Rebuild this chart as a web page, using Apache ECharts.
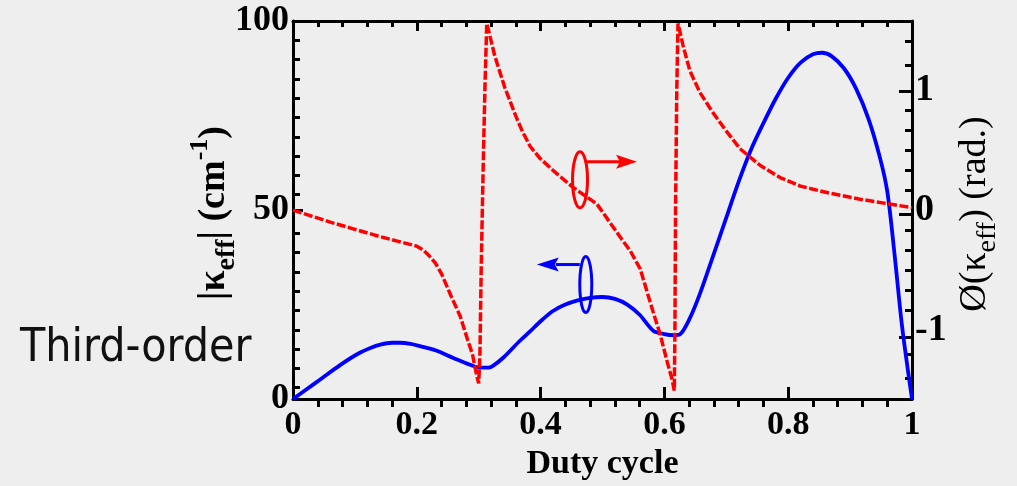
<!DOCTYPE html>
<html><head><meta charset="utf-8">
<style>html,body{margin:0;padding:0;background:#eeeeee;}#c{width:1017px;height:486px;}</style>
<script src="https://cdn.jsdelivr.net/npm/echarts@6/dist/echarts.min.js"></script>
</head><body><div id="c"></div>
<script>
// ---- data ----
const dutyAbs = [0, 0.022, 0.044, 0.076, 0.105, 0.125, 0.141, 0.16, 0.173, 0.19, 0.205, 0.23, 0.259, 0.286, 0.302, 0.315, 0.323, 0.34, 0.367, 0.383, 0.40, 0.42, 0.44, 0.46, 0.48, 0.50, 0.52, 0.54, 0.56, 0.582, 0.60, 0.615, 0.625, 0.64, 0.657, 0.68, 0.70, 0.72, 0.74, 0.76, 0.78, 0.80, 0.82, 0.84, 0.855, 0.87, 0.89, 0.91, 0.93, 0.948, 0.96, 0.972, 0.984, 1.0];
const kappaAbs = [0, 2.6, 5.2, 9.0, 12.0, 13.5, 14.4, 14.9, 14.9, 14.6, 14.0, 12.9, 10.9, 9.1, 8.3, 8.3, 8.8, 11.0, 15.5, 17.9, 20.6, 23.3, 25.0, 26.1, 26.8, 27.0, 26.5, 25.0, 22.3, 18.1, 17.2, 16.9, 17.1, 21.0, 27.7, 38.5, 48.0, 57.5, 66.0, 73.0, 79.5, 85.0, 89.0, 91.2, 91.6, 90.7, 87.5, 82.0, 74.0, 64.0, 55.0, 38.0, 19.2, 0];
const dutyPhase = [0, 0.03, 0.06, 0.10, 0.14, 0.17, 0.20, 0.21, 0.22, 0.23, 0.24, 0.255, 0.27, 0.281, 0.29, 0.297, 0.300, 0.302, 0.304, 0.307, 0.310, 0.313, 0.318, 0.326, 0.334, 0.342, 0.351, 0.36, 0.37, 0.383, 0.399, 0.42, 0.452, 0.491, 0.528, 0.545, 0.561, 0.582, 0.593, 0.605, 0.612, 0.616, 0.617, 0.618, 0.620, 0.622, 0.63, 0.641, 0.657, 0.677, 0.698, 0.722, 0.755, 0.787, 0.819, 0.867, 0.916, 0.964, 1.0];
const kappaPhase = [0, -0.05, -0.1, -0.16, -0.22, -0.26, -0.30, -0.33, -0.38, -0.44, -0.53, -0.71, -0.88, -1.06, -1.2, -1.38, -1.44, -1.2, -0.5, 0.3, 1.0, 1.55, 1.45, 1.28, 1.15, 1.02, 0.9, 0.78, 0.66, 0.53, 0.43, 0.33, 0.19, 0.05, -0.22, -0.34, -0.49, -0.85, -1.03, -1.27, -1.4, -1.5, -1.0, 0.0, 1.0, 1.55, 1.37, 1.16, 0.98, 0.82, 0.67, 0.51, 0.37, 0.27, 0.2, 0.14, 0.09, 0.05, 0.02];
// ---- ticks ----
const xMajorTicks = [0, 0.2, 0.4, 0.6, 0.8, 1];
const xMinorTicks = [0.04, 0.08, 0.12, 0.16, 0.24, 0.28, 0.32, 0.36, 0.44, 0.48, 0.52, 0.56, 0.64, 0.68, 0.72, 0.76, 0.84, 0.88, 0.92, 0.96];
const leftMajorTicks = [0, 50, 100];
const leftMinorTicks = [5, 10, 15, 20, 25, 30, 35, 40, 45, 55, 60, 65, 70, 75, 80, 85, 90, 95];
const phaseLabelTicks = [-1, 0, 1];
const phaseMinorTicks = [-1.4, -1.2, -5/6, -2/3, -1/2, -1/3, -1/6, 1/6, 1/3, 1/2, 2/3, 5/6, 1.2, 1.4];
// annotation anchors (duty, |kappa|)
const redMarkAt = [0.4637, 58];
const blueMarkAt = [0.473, 30.3];

const serif = '"Liberation Serif","Times New Roman",serif';
const zip = (a, b) => a.map((v, i) => [v, b[i]]);
const black = '#000';
const chart = echarts.init(document.getElementById('c'));
const PHI = Math.PI / 2;
const line3 = () => ({show: true, onZero: false, lineStyle: {color: black, width: 3}});
const noLine = () => ({show: false, onZero: false});
const ticks = (vals, len) => ({show: true, inside: true, length: len, customValues: vals, lineStyle: {color: black, width: 3}});
const off = () => ({show: false});

const richFor = (weight) => ({
  n: {fontFamily: serif, fontWeight: weight, fontSize: 38, lineHeight: 54, fill: black, color: black},
  s: {fontFamily: serif, fontWeight: weight, fontSize: 28, lineHeight: 28, verticalAlign: 'bottom', fill: black, color: black},
  p: {fontFamily: serif, fontWeight: weight, fontSize: 26, lineHeight: 26, verticalAlign: 'top', fill: black, color: black}
});

const option = {
  backgroundColor: '#eeeeee',
  animation: false,
  grid: [
    {left: 293, right: 105, top: 21, bottom: 79},
    {left: 293, right: 105, top: 21, bottom: 79}
  ],
  xAxis: [{
    gridIndex: 0, type: 'value', min: 0, max: 1, position: 'bottom',
    axisLine: line3(), axisTick: ticks(xMajorTicks, 12),
    axisLabel: {color: black, fontFamily: serif, fontWeight: 'bold', fontSize: 34, margin: 9, customValues: xMajorTicks},
    splitLine: off(),
    name: 'Duty cycle', nameLocation: 'middle', nameGap: 41,
    nameTextStyle: {color: black, fontFamily: serif, fontWeight: 'bold', fontSize: 34}
  }, {
    gridIndex: 0, type: 'value', min: 0, max: 1, position: 'top',
    axisLine: line3(), axisTick: ticks(xMajorTicks, 10),
    axisLabel: off(), splitLine: off()
  }, {
    gridIndex: 1, type: 'value', min: 0, max: 1, position: 'bottom',
    axisLine: noLine(), axisTick: ticks(xMinorTicks, 6), axisLabel: off(), splitLine: off()
  }, {
    gridIndex: 1, type: 'value', min: 0, max: 1, position: 'top',
    axisLine: noLine(), axisTick: ticks(xMinorTicks, 6), axisLabel: off(), splitLine: off()
  }],
  yAxis: [{
    gridIndex: 0, type: 'value', min: 0, max: 100, position: 'left',
    axisLine: line3(), axisTick: ticks(leftMajorTicks, 10),
    axisLabel: {color: black, fontFamily: serif, fontWeight: 'bold', fontSize: 36, margin: 4, customValues: leftMajorTicks},
    splitLine: off()
  }, {
    gridIndex: 0, type: 'value', min: -PHI, max: PHI, position: 'right',
    axisLine: line3(), axisTick: ticks(phaseMinorTicks, 7),
    axisLabel: {color: black, fontFamily: serif, fontWeight: 'bold', fontSize: 38, margin: 3, customValues: phaseLabelTicks},
    splitLine: off()
  }, {
    gridIndex: 1, type: 'value', min: 0, max: 100, position: 'left',
    axisLine: noLine(), axisTick: ticks(leftMinorTicks, 7), axisLabel: off(), splitLine: off()
  }, {
    gridIndex: 1, type: 'value', min: -PHI, max: PHI, position: 'right',
    axisLine: noLine(), axisTick: ticks(phaseLabelTicks, 13), axisLabel: off(), splitLine: off()
  }],
  series: [{
    name: '|κeff|', type: 'line', xAxisIndex: 0, yAxisIndex: 0,
    data: zip(dutyAbs, kappaAbs), showSymbol: false, smooth: 0.3,
    lineStyle: {color: '#0000ff', width: 3.8}, z: 3
  }, {
    name: 'Ø(κeff)', type: 'line', xAxisIndex: 0, yAxisIndex: 1,
    data: zip(dutyPhase, kappaPhase), showSymbol: false,
    lineStyle: {color: '#ff0000', width: 3.5, type: [9, 2.5]}, z: 4
  }]
};
chart.setOption(option);

const toPx = p => chart.convertToPixel({xAxisIndex: 0, yAxisIndex: 0}, p);
const rc = toPx(redMarkAt), bc = toPx(blueMarkAt);
const red = '#ff0000', blue = '#0000ff';
chart.setOption({
  graphic: [
    {type: 'text', left: 20, top: 326, silent: true,
     style: {text: 'Third-order', font: '46px "DejaVu Sans Condensed","DejaVu Sans",sans-serif', fill: '#111'}},
    {type: 'text', x: 214, y: 213, rotation: Math.PI / 2, silent: true,
     style: {text: '{n||κ}{s|eff}{n|| (cm}{p|-1}{n|)}', rich: richFor('bold'), align: 'center', verticalAlign: 'middle'}},
    {type: 'text', x: 975, y: 214, rotation: Math.PI / 2, silent: true,
     style: {text: '{n|Ø(κ}{s|eff}{n|) (rad.)}', rich: richFor('normal'), align: 'center', verticalAlign: 'middle'}},
    {type: 'ellipse', shape: {cx: rc[0], cy: rc[1], rx: 7.5, ry: 28}, silent: true, z: 10,
     style: {fill: 'none', stroke: red, lineWidth: 3}},
    {type: 'line', shape: {x1: rc[0] + 7, y1: rc[1] - 18, x2: rc[0] + 40, y2: rc[1] - 18}, silent: true, z: 10,
     style: {stroke: red, lineWidth: 3}},
    {type: 'polygon', shape: {points: [[rc[0] + 57, rc[1] - 18], [rc[0] + 36, rc[1] - 25], [rc[0] + 40, rc[1] - 18], [rc[0] + 36, rc[1] - 11]]}, silent: true, z: 10,
     style: {fill: red}},
    {type: 'ellipse', shape: {cx: bc[0], cy: bc[1], rx: 6, ry: 28}, silent: true, z: 10,
     style: {fill: 'none', stroke: blue, lineWidth: 3}},
    {type: 'line', shape: {x1: bc[0] - 6, y1: bc[1] - 20, x2: bc[0] - 30, y2: bc[1] - 20}, silent: true, z: 10,
     style: {stroke: blue, lineWidth: 3}},
    {type: 'polygon', shape: {points: [[bc[0] - 49, bc[1] - 20], [bc[0] - 27, bc[1] - 27], [bc[0] - 31, bc[1] - 20], [bc[0] - 27, bc[1] - 13]]}, silent: true, z: 10,
     style: {fill: blue}}
  ]
});
</script></body></html>
